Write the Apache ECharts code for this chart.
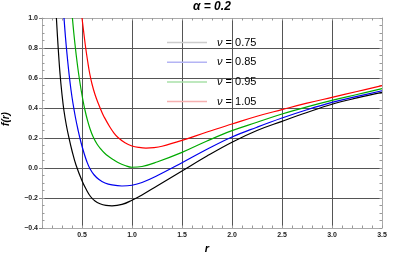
<!DOCTYPE html>
<html>
<head>
<meta charset="utf-8">
<script src="https://cdn.jsdelivr.net/npm/echarts@6/dist/echarts.min.js"></script>
<style>html,body{margin:0;padding:0;background:#fff;}#c{width:415px;height:260px;}</style>
</head>
<body>
<div id="c"></div>
<script>
// ---- data ----
var seriesNames = ['ν = 0.75', 'ν = 0.85', 'ν = 0.95', 'ν = 1.05'];
var nu075 = [[0.244,1.0],[0.26,0.82],[0.28,0.63],[0.30,0.49],[0.32,0.38],[0.345,0.28],[0.37,0.2],[0.40,0.115],[0.44,0.02],[0.5,-0.085],[0.54,-0.14],[0.585,-0.19],[0.63,-0.22],[0.68,-0.238],[0.74,-0.249],[0.8,-0.252],[0.9,-0.243],[1.0,-0.215],[1.1,-0.18],[1.25,-0.12],[1.5,-0.02],[1.75,0.08],[2.0,0.172],[2.25,0.25],[2.5,0.311],[2.75,0.37],[3.0,0.425],[3.25,0.467],[3.5,0.504]];
var nu085 = [[0.32,1.0],[0.335,0.87],[0.35,0.76],[0.37,0.63],[0.39,0.52],[0.41,0.43],[0.435,0.335],[0.46,0.255],[0.49,0.17],[0.52,0.1],[0.55,0.04],[0.58,-0.005],[0.62,-0.045],[0.67,-0.077],[0.73,-0.1],[0.8,-0.113],[0.9,-0.12],[1.0,-0.115],[1.1,-0.097],[1.25,-0.052],[1.5,0.035],[1.75,0.125],[2.0,0.207],[2.25,0.272],[2.5,0.333],[2.75,0.388],[3.0,0.437],[3.25,0.477],[3.5,0.515]];
var nu095 = [[0.404,1.0],[0.418,0.9],[0.434,0.8],[0.45,0.71],[0.467,0.625],[0.49,0.525],[0.51,0.45],[0.53,0.385],[0.555,0.317],[0.58,0.262],[0.61,0.21],[0.65,0.16],[0.69,0.125],[0.727,0.098],[0.77,0.075],[0.81,0.057],[0.86,0.037],[0.93,0.017],[1.0,0.005],[1.1,0.01],[1.25,0.04],[1.5,0.104],[1.75,0.18],[2.0,0.249],[2.25,0.305],[2.5,0.36],[2.75,0.408],[3.0,0.451],[3.25,0.49],[3.5,0.529]];
var nu105 = [[0.5,1.0],[0.52,0.89],[0.537,0.8],[0.557,0.71],[0.577,0.63],[0.6,0.56],[0.63,0.49],[0.66,0.435],[0.7,0.37],[0.72,0.342],[0.777,0.275],[0.82,0.233],[0.86,0.203],[0.93,0.168],[1.0,0.147],[1.07,0.137],[1.14,0.133],[1.22,0.136],[1.3,0.145],[1.5,0.184],[1.75,0.24],[2.0,0.293],[2.25,0.345],[2.5,0.389],[2.75,0.432],[3.0,0.471],[3.25,0.51],[3.5,0.549]];
var xTickLabels = [0.5, 1.0, 1.5, 2.0, 2.5, 3.0, 3.5];
var titleText = 'α = 0.2';

var lineColors = ['#000000', '#0000ee', '#00aa00', '#ff0000'];
var legendColors = ['#cccccc', '#b4b4f4', '#a8e0a8', '#f6b0b0'];
var allData = [nu075, nu085, nu095, nu105];

var FONT = 'Liberation Sans';
var X_MIN = 0.1, X_MAX = 3.5, Y_MIN = -0.4, Y_MAX = 1.0;
var frameColor = '#aaaaaa';
var gridColor = '#555555';

function fmtY(v) {
  var s = Math.abs(v).toFixed(1);
  return v < -1e-9 ? '\u2212' + s : s;
}

var chart = echarts.init(document.getElementById('c'), null, {renderer: 'canvas'});
var option = {
  animation: false,
  backgroundColor: '#ffffff',
  title: {
    text: titleText, left: 193, top: 1, padding: 0,
    textStyle: {fontFamily: FONT, fontSize: 12, fontWeight: 'bold', fontStyle: 'italic', color: '#000'}
  },
  legend: {
    orient: 'vertical', left: 167, top: 36, padding: 0,
    icon: 'rect', itemWidth: 40, itemHeight: 1.5, itemGap: 6.7,
    textStyle: {fontFamily: FONT, fontSize: 11, color: '#000', lineHeight: 13, padding: [0, 0, 0, 5],
      rich: {i: {fontFamily: FONT, fontSize: 11, fontStyle: 'italic', color: '#000'}}},
    formatter: function (name) { return '{i|ν} = ' + name.split('= ')[1]; },
    data: seriesNames.map(function (n, i) {
      return {name: n, icon: 'rect', itemStyle: {color: legendColors[i], borderWidth: 0},
              lineStyle: {color: legendColors[i], width: 1.5}};
    })
  },
  grid: {left: 42, top: 18, width: 340, height: 210, containLabel: false, outerBoundsMode: 'none'},
  xAxis: [
    { // main axis: labels + grid lines
      type: 'value', position: 'bottom', min: X_MIN, max: X_MAX,
      name: 'r', nameLocation: 'middle', nameGap: 14,
      nameTextStyle: {fontFamily: FONT, fontSize: 11, fontWeight: 'bold', fontStyle: 'italic', color: '#000', padding: [0, 10, 0, 0]},
      axisLine: {show: true, onZero: false, lineStyle: {color: frameColor, width: 1}},
      axisTick: {show: false, customValues: xTickLabels},
      axisLabel: {customValues: xTickLabels, margin: 4, fontFamily: FONT, fontSize: 7, fontWeight: 'bold', color: '#222',
        formatter: function (v) { return v.toFixed(1); }},
      splitLine: {show: true, lineStyle: {color: gridColor, width: 1}}
    },
    { // minor ticks bottom
      type: 'value', position: 'bottom', min: X_MIN, max: X_MAX, interval: 0.1,
      axisLine: {show: false, onZero: false},
      axisTick: {show: true, inside: true, length: 2.5, lineStyle: {color: '#999'}},
      axisLabel: {show: false}, splitLine: {show: false}
    },
    { // top frame with ticks
      type: 'value', position: 'top', min: X_MIN, max: X_MAX, interval: 0.1,
      axisLine: {show: true, onZero: false, lineStyle: {color: frameColor, width: 1}},
      axisTick: {show: true, inside: true, length: 2.5, lineStyle: {color: '#999'}},
      axisLabel: {show: false}, splitLine: {show: false}
    }
  ],
  yAxis: [
    { // main
      type: 'value', position: 'left', min: Y_MIN, max: Y_MAX, interval: 0.2,
      name: 'f(r)', nameLocation: 'middle', nameGap: 31, nameRotate: 90,
      nameTextStyle: {fontFamily: FONT, fontSize: 10, fontWeight: 'bold', fontStyle: 'italic', color: '#000', padding: [0, 0, 0, 8]},
      axisLine: {show: true, onZero: false, lineStyle: {color: frameColor, width: 1}},
      axisTick: {show: true, inside: false, length: 3, lineStyle: {color: '#888'}},
      axisLabel: {margin: 4, fontFamily: FONT, fontSize: 7, fontWeight: 'bold', color: '#222', formatter: fmtY},
      splitLine: {show: true, lineStyle: {color: gridColor, width: 1}}
    },
    { // minor ticks left
      type: 'value', position: 'left', min: Y_MIN, max: Y_MAX, interval: 0.05,
      axisLine: {show: false, onZero: false},
      axisTick: {show: true, inside: true, length: 2.5, lineStyle: {color: '#999'}},
      axisLabel: {show: false}, splitLine: {show: false}
    },
    { // right frame
      type: 'value', position: 'right', min: Y_MIN, max: Y_MAX, interval: 0.05,
      axisLine: {show: true, onZero: false, lineStyle: {color: frameColor, width: 1}},
      axisTick: {show: true, inside: true, length: 2.5, lineStyle: {color: '#999'}},
      axisLabel: {show: false}, splitLine: {show: false}
    }
  ],
  series: seriesNames.map(function (n, i) {
    return {
      name: n, type: 'line', xAxisIndex: 0, yAxisIndex: 0,
      data: allData[i], showSymbol: false, symbol: 'none',
      smooth: 0.4, clip: true,
      lineStyle: {color: lineColors[i], width: 1.2},
      itemStyle: {color: lineColors[i]},
      z: 5
    };
  })
};
chart.setOption(option);
</script>
</body>
</html>
